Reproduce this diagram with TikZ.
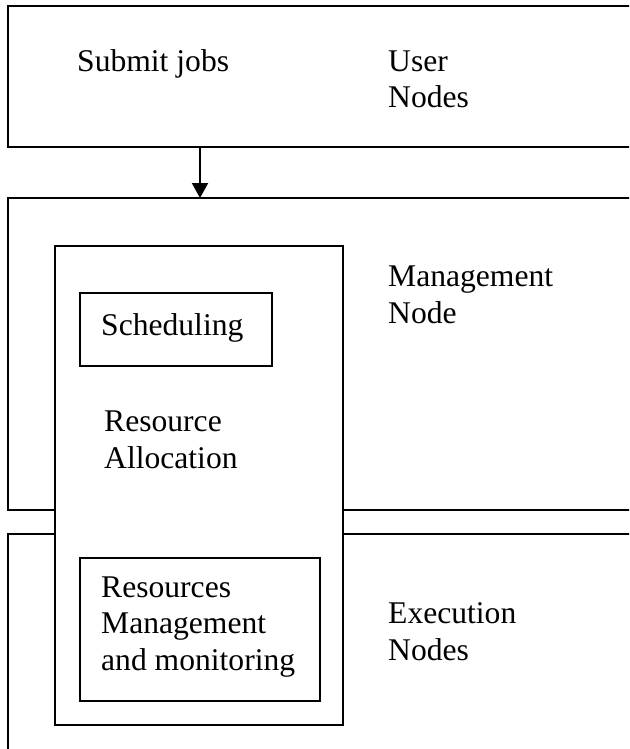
\documentclass[tikz,border=0pt]{standalone}
\usepackage{fontspec}
\setmainfont{Liberation Serif}
\usetikzlibrary{arrows.meta}
\begin{document}
\begin{tikzpicture}[x=1pt,y=-1pt,
  box/.style={draw=black, line width=2pt, outer sep=0pt, inner sep=0pt, anchor=north west, fill=white},
  lbl/.style={anchor=base west, inner sep=0pt, align=left, font=\fontsize{31.6pt}{36.5pt}\selectfont},
  flow/.style={line width=2pt, -{Triangle[width=16pt,length=15pt]}}]
\useasboundingbox (0,0) rectangle (629,749);
\clip (0,0) rectangle (629,749);
% outer boxes (open to the right / bottom)
\node[box, minimum width=640pt, minimum height=141pt] (userbox) at (8,6) {};
\node[box, minimum width=640pt, minimum height=312pt] (mgmtbox) at (8,198) {};
\node[box, minimum width=640pt, minimum height=240pt] (execbox) at (8,534) {};
% tall resource allocation box
\node[box, minimum width=288pt, minimum height=479pt] (rabox) at (55,246) {};
\node[box, minimum width=192pt, minimum height=73pt] (schedbox) at (80,293) {};
\node[box, minimum width=240pt, minimum height=143pt] (rmbox) at (80,558) {};
% labels (anchor = baseline of the last line)
\node[lbl] (submit) at (77,72) {Submit jobs};
\node[lbl] (user) at (388,108) {User\\Nodes};
\node[lbl] (mgmt) at (388,323) {Management\\Node};
\node[lbl] (sched) at (101,335) {Scheduling};
\node[lbl] (ra) at (104,468) {Resource\\Allocation};
\node[lbl] (rm) at (101,670) {Resources\\Management\\and monitoring};
\node[lbl] (exec) at (388,660) {Execution\\Nodes};
% arrow
\coordinate (ax) at (200,0);
\draw[flow] (ax |- userbox.south) -- (ax |- mgmtbox.north);
\end{tikzpicture}
\end{document}
